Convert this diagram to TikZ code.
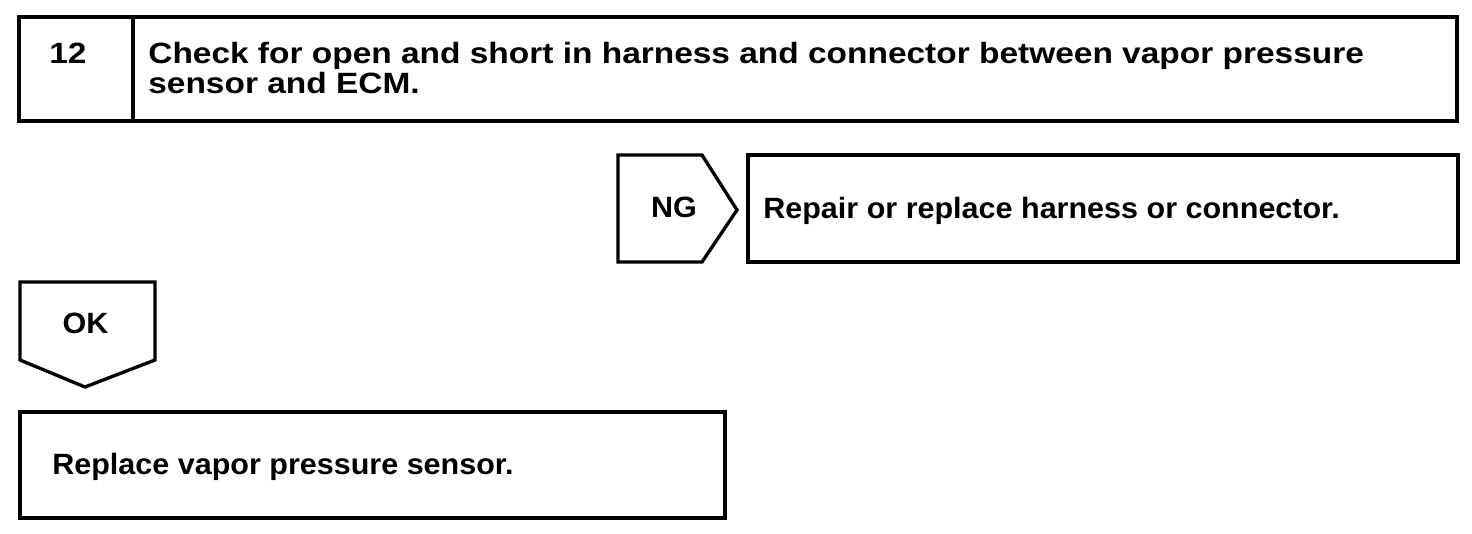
\documentclass[tikz,border=0pt]{standalone}
\usepackage{fontspec}
\setmainfont[FakeStretch=1.04]{Liberation Sans}
\newfontfamily\titlefont[FakeStretch=1.14]{Liberation Sans}
\usetikzlibrary{
    arrows.meta,
    positioning,
    calc
}
\tikzset{
    cellbox/.style={draw, line width=1.9pt, inner sep=0pt},
    tabline/.style={line width=1.9pt},
    steptext/.style={inner sep=0pt, font=\fontsize{16.7pt}{17pt}\selectfont\bfseries},
    titletext/.style={inner sep=0pt, font=\fontsize{16.7pt}{17pt}\selectfont\titlefont\bfseries}
}

\begin{document}
\begin{tikzpicture}[x=0.02cm, y=-0.02cm]
        \useasboundingbox (0, 0) rectangle (1472, 534);

        % Step header
        \node[cellbox, minimum width=2.28cm, minimum height=2.08cm] (num) at (76, 69) {};
        \node[cellbox, minimum width=26.48cm, minimum height=2.08cm] (check) at (795, 69) {};
        \node[titletext, anchor=base] (numtext) at (68, 63) {12};
        \node[titletext, anchor=base west, align=left] (checktext) at (148, 93)
            {Check for open and short in harness and connector between vapor pressure\\sensor and ECM.};

        % NG branch
        \draw[tabline] (618, 155) coordinate (ngtl) -- (702, 155) -- (737, 210) coordinate (ngtip) -- (702, 262) -- (618, 262) -- cycle;
        \node[steptext, anchor=base] (ng) at (674, 217) {NG};
        \node[cellbox, minimum width=14.2cm, minimum height=2.14cm] (repair) at (1103, 208.5) {};
        \node[steptext, anchor=base west] (repairtext) at (763, 218) {Repair or replace harness or connector.};

        % OK branch
        \draw[tabline] (20, 282) coordinate (oktl) -- (155, 282) -- (155, 360) -- (85, 387) coordinate (oktip) -- (20, 360) -- cycle;
        \node[steptext, anchor=base] (ok) at (85.5, 333) {OK};
        \node[cellbox, minimum width=14.1cm, minimum height=2.12cm] (replace) at (372.5, 465) {};
        \node[steptext, anchor=base west] (replacetext) at (52, 474) {Replace vapor pressure sensor.};
    \end{tikzpicture}
\end{document}
